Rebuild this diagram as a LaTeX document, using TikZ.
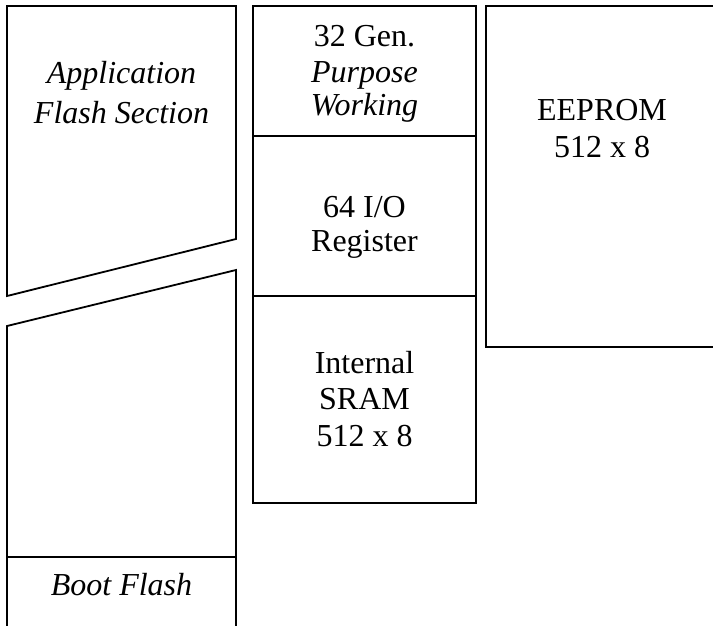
\documentclass[tikz,border=0pt]{standalone}
\usepackage{fontspec}
\setmainfont{Liberation Serif}
\begin{document}
\begin{tikzpicture}[x=1pt,y=-1pt,
  edge/.style={line width=1.8pt,line join=miter},
  lbl/.style={anchor=base,inner sep=0pt,font=\fontsize{32}{37}\selectfont},
  ilbl/.style={lbl,font=\fontsize{32}{37}\selectfont\itshape}]
\useasboundingbox (0,0) rectangle (713,625);
\clip (0,0) rectangle (713,625);
% left column
\draw[edge] (7,6) -- (236,6) -- (236,239) -- (7,296) -- cycle;
\draw[edge] (7,640) -- (7,326) -- (236,270) -- (236,640);
\draw[edge] (7,557) -- (236,557);
% middle column
\draw[edge] (253,6) rectangle (476,503);
\draw[edge] (253,136) -- (476,136);
\draw[edge] (253,296) -- (476,296);
% right column
\draw[edge] (730,6) -- (486,6) -- (486,347) -- (730,347);
% labels
\node[ilbl] (app1) at (121.5,83) {Application};
\node[ilbl] (app2) at (121.5,123) {Flash Section};
\node[ilbl] (boot) at (121.5,595) {Boot Flash};
\node[lbl] (gen1) at (364.5,46) {32 Gen.};
\node[ilbl] (gen2) at (364.5,82) {Purpose};
\node[ilbl] (gen3) at (364.5,115) {Working};
\node[lbl] (io1) at (364.5,217) {64 I/O};
\node[lbl] (io2) at (364.5,251) {Register};
\node[lbl] (sr1) at (364.5,373) {Internal};
\node[lbl] (sr2) at (364.5,409) {SRAM};
\node[lbl] (sr3) at (364.5,446) {512 x 8};
\node[lbl] (ee1) at (602,120) {EEPROM};
\node[lbl] (ee2) at (602,157) {512 x 8};
\end{tikzpicture}
\end{document}
